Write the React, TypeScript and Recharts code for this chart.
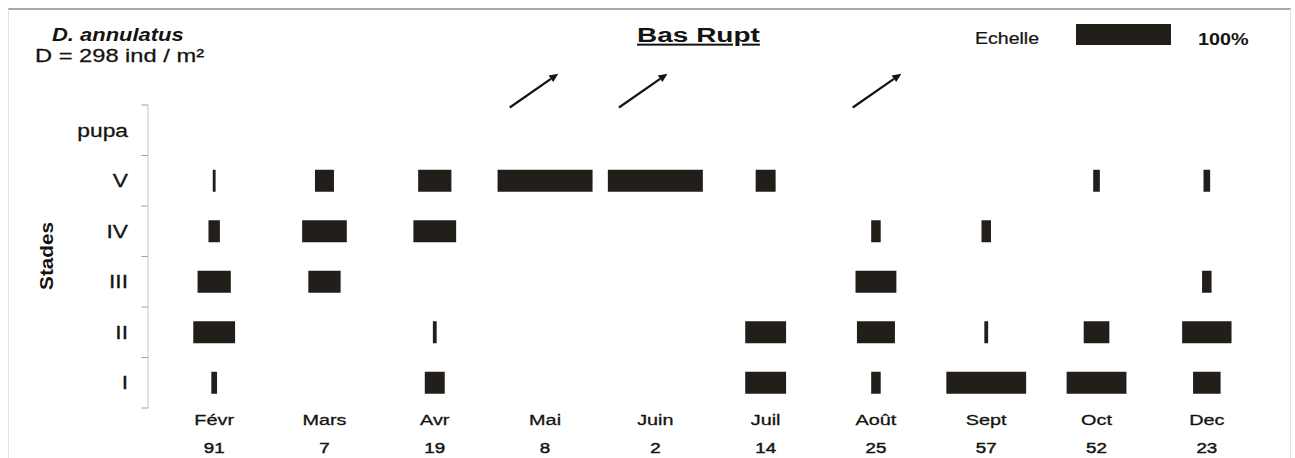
import { ScatterChart, Scatter, XAxis, YAxis, ZAxis, ReferenceLine } from 'recharts'

const months = ['Févr', 'Mars', 'Avr', 'Mai', 'Juin', 'Juil', 'Août', 'Sept', 'Oct', 'Dec']
const counts = [91, 7, 19, 8, 2, 14, 25, 57, 52, 23]
const stages = ['I', 'II', 'III', 'IV', 'V', 'pupa']

// share of individuals (%) in each stage, one value per month
const stageI = [6, 0, 21, 0, 0, 43, 10, 84, 63, 29]
const stageII = [44, 0, 4, 0, 0, 43, 40, 4, 27, 52]
const stageIII = [35, 34, 0, 0, 0, 0, 43, 0, 0, 10]
const stageIV = [12, 47, 45, 0, 0, 0, 10, 10, 0, 0]
const stageV = [3, 20, 35, 100, 100, 21, 0, 0, 7, 7]
const stagePupa = [0, 0, 0, 0, 0, 0, 0, 0, 0, 0]

// emergence arrows drawn above these months
const arrowMonths = ['Mai', 'Juin', 'Août']
const arrowShift = [-0.1, -0.11, 0.01]

const FONT = '"Liberation Sans", Arial, sans-serif'
const INK = '#141311'
const BAR = '#221f1b'
const SCALE_PX = 95 // width of a 100% bar
const BAR_H = 22

const stageValues = [stageI, stageII, stageIII, stageIV, stageV, stagePupa]
const points = stageValues.flatMap((vals, s) =>
  vals.map((pct, m) => ({ month: m, stage: s, pct })).filter((p) => p.pct > 0)
)
const monthTicks = months.map((_, i) => i)
const stageTicks = stages.map((_, i) => i)
const boundaries = [...stages.map((_, i) => i - 0.5), stages.length - 0.5]

function MonthTick({ x, y, payload }: any) {
  const i = payload.value
  return (
    <g fontFamily={FONT} fill={INK}>
      <text
        transform={`translate(${x},${y + 16.5}) scale(1.28,1)`}
        textAnchor="middle"
        fontSize={15.5}
        stroke={INK}
        strokeWidth={0.3}
      >
        {months[i]}
      </text>
      <text
        transform={`translate(${x},${y + 44.5}) scale(1.25,1)`}
        textAnchor="middle"
        fontSize={15}
        stroke={INK}
        strokeWidth={0.45}
      >
        {counts[i]}
      </text>
    </g>
  )
}

function StageTick({ x, y, payload }: any) {
  return (
    <text
      transform={`translate(${x},${y + 6.5}) scale(1.2,1)`}
      textAnchor="end"
      fontSize={19}
      fontFamily={FONT}
      fill={INK}
      stroke={INK}
      strokeWidth={0.3}
    >
      {stages[payload.value]}
    </text>
  )
}

function BarShape(props: any) {
  const { cx, cy } = props
  const w = props.size ?? Math.PI * (props.width / 2) ** 2
  return <rect x={cx - w / 2} y={cy - BAR_H / 2} width={w} height={BAR_H} fill={BAR} />
}

function Arrow(props: any) {
  const { x1, y1, x2, y2 } = props
  const a = Math.atan2(y2 - y1, x2 - x1)
  const L = 9
  const W = 4
  const bx = x2 - L * Math.cos(a)
  const by = y2 - L * Math.sin(a)
  return (
    <g>
      <line x1={x1} y1={y1} x2={bx} y2={by} stroke={INK} strokeWidth={2.2} />
      <polygon
        points={`${x2},${y2} ${bx - W * Math.sin(a)},${by + W * Math.cos(a)} ${bx + W * Math.sin(a)},${by - W * Math.cos(a)}`}
        fill={INK}
      />
    </g>
  )
}

export default function App() {
  return (
    <div style={{ position: 'absolute', left: 0, top: 0, width: 1295, height: 458, background: '#fff' }}>
      <div
        style={{
          position: 'absolute',
          left: 8,
          top: 8,
          width: 1281,
          height: 460,
          borderTop: '2px solid #a8a8a8',
          borderLeft: '1px solid #e2e2e2',
          borderRight: '1px solid #e2e2e2',
        }}
      />
      <ScatterChart width={1295} height={458} margin={{ top: 105, right: 22, bottom: 0, left: 0 }}>
        <XAxis
          type="number"
          dataKey="month"
          domain={[-0.6, 9.6]}
          ticks={monthTicks}
          interval={0}
          axisLine={false}
          tickLine={false}
          tickSize={0}
          tickMargin={0}
          height={50}
          tick={MonthTick}
        />
        <YAxis
          type="number"
          dataKey="stage"
          domain={[-0.5, 5.5]}
          ticks={stageTicks}
          interval={0}
          width={148}
          axisLine={{ stroke: '#c4c4c4' }}
          tickLine={false}
          tickSize={0}
          tickMargin={20}
          tick={StageTick}
        />
        <ZAxis type="number" dataKey="pct" domain={[0, 100]} range={[0, SCALE_PX]} />
        {boundaries.map((b) => (
          <ReferenceLine
            key={b}
            segment={[{ x: -0.66, y: b }, { x: -0.6, y: b }]}
            stroke="#a0a0a0"
            ifOverflow="visible"
          />
        ))}
        {arrowMonths.map((m, i) => {
          const c = months.indexOf(m) + arrowShift[i]
          return (
            <ReferenceLine
              key={m}
              segment={[{ x: c - 0.22, y: 5.45 }, { x: c + 0.22, y: 6.12 }]}
              ifOverflow="visible"
              shape={Arrow}
            />
          )
        })}
        <Scatter data={points} isAnimationActive={false} shape={BarShape} />
      </ScatterChart>
      <svg
        width={1295}
        height={458}
        style={{ position: 'absolute', left: 0, top: 0, pointerEvents: 'none' }}
        fontFamily={FONT}
        fill={INK}
      >
        <text transform="translate(52,41) scale(1.22,1)" fontSize={18} fontWeight="bold" fontStyle="italic">
          D. annulatus
        </text>
        <text transform="translate(35,62) scale(1.28,1)" fontSize={18.5} stroke={INK} strokeWidth={0.25}>
          D = 298 ind / m²
        </text>
        <text
          transform="translate(637,42) scale(1.4,1)"
          fontSize={20}
          fontWeight="bold"
          textDecoration="underline"
        >
          Bas Rupt
        </text>
        <text transform="translate(975,44) scale(1.15,1)" fontSize={17} stroke={INK} strokeWidth={0.25}>
          Echelle
        </text>
        <rect x={1076} y={24} width={SCALE_PX} height={21} fill={BAR} />
        <text transform="translate(1198,45) scale(1.2,1)" fontSize={16.5} fontWeight="bold">
          100%
        </text>
        <text
          transform="translate(53,256) rotate(-90) scale(1.15,1)"
          textAnchor="middle"
          fontSize={18}
          fontWeight="bold"
        >
          Stades
        </text>
      </svg>
    </div>
  )
}
